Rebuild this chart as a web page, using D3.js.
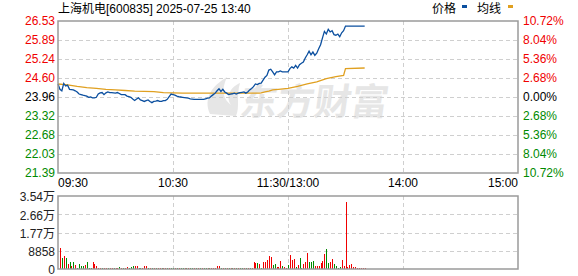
<!DOCTYPE html>
<html lang="zh">
<head>
  <meta charset="UTF-8" />
  <title>上海机电 分时图</title>
  <script src="https://d3js.org/d3.v7.min.js"></script>
  <style>
    body { margin: 0; background: #fff; }
    svg { display: block; font-family: "Liberation Sans", Arial, "Noto Sans CJK SC", sans-serif; }
  </style>
</head>
<body>

<svg width="578" height="276"></svg>

<script>
const title = "上海机电[600835] 2025-07-25 13:40";
const preClose = 23.96;
const priceTicks = [26.53, 25.89, 25.24, 24.60, 23.96, 23.32, 22.68, 22.03, 21.39];
const pctLabels = ["10.72%", "8.04%", "5.36%", "2.68%", "0.00%", "2.68%", "5.36%", "8.04%", "10.72%"];
const timeTicks = [0, 60, 120, 180, 240];
const timeLabels = ["09:30", "10:30", "11:30/13:00", "14:00", "15:00"];
const volTicks = [0, 8858, 17716, 26574, 35432];
const volLabels = ["0", "8858", "1.77万", "2.66万", "3.54万"];

// one price per minute, 09:30 .. 13:40
const prices = [
  24.40,24.22,24.17,24.42,24.33,24.36,24.22,24.21,24.20,24.17,
  24.13,24.06,24.04,24.02,24.01,23.99,23.95,23.96,23.93,23.93,
  23.95,24.06,24.10,24.11,24.04,24.10,24.13,24.11,24.11,24.10,
  24.09,24.11,24.08,24.04,24.04,24.04,23.99,23.97,23.95,23.89,
  23.84,23.89,23.93,23.86,23.84,23.81,23.84,23.86,23.81,23.77,
  23.81,23.82,23.84,23.81,23.81,23.84,23.84,23.88,23.97,24.06,
  24.04,24.02,23.99,23.97,23.96,23.95,23.94,23.93,23.92,23.90,
  23.89,23.88,23.88,23.88,23.88,23.88,23.88,23.90,23.92,23.93,
  23.99,24.04,24.09,24.17,24.24,24.15,24.22,24.13,24.09,24.04,
  24.06,24.07,24.09,24.06,24.09,24.11,24.12,24.13,24.09,24.13,
  24.20,24.25,24.31,24.40,24.38,24.42,24.43,24.53,24.63,24.69,
  24.87,24.90,24.81,24.71,24.81,24.81,24.84,24.81,24.81,24.81,
  24.81,24.92,24.98,24.94,25.03,24.94,25.05,25.10,25.14,25.28,
  25.39,25.51,25.39,25.48,25.37,25.44,25.59,25.73,25.96,26.18,
  26.09,26.25,26.16,26.20,26.07,26.05,26.09,26.00,26.13,26.20,
  26.36,26.36,26.36,26.36,26.36,26.36,26.36,26.36,26.36,26.36,26.36
];

const avgMinutes = [0,5,10,15,20,25,30,35,40,45,50,55,60,65,105,106,108,110,112,115,120,125,130,135,140,145,149,150,160];
const avgPrices = [24.40,24.37,24.32,24.28,24.25,24.22,24.20,24.18,24.16,24.15,24.14,24.11,24.10,24.09,24.09,24.10,24.13,24.16,24.20,24.22,24.25,24.32,24.40,24.47,24.58,24.65,24.69,24.92,24.94];

const volumes = [
  0,
  10060,5270,6230,5270,2400,3350,1440,3350,1920,480,2400,1440,1440,1920,3350,480,480,3350,2400,1440,
  600,480,480,480,600,480,480,480,480,480,
  480,960,480,480,480,960,480,960,1440,1440,
  1440,480,480,480,1440,1440,480,480,480,480,
  480,480,480,480,480,480,480,480,600,480,
  480,480,480,480,480,480,480,480,480,480,
  480,480,480,480,480,480,480,480,480,600,
  720,480,1440,1440,480,480,480,480,480,480,
  480,480,480,480,480,480,480,480,480,480,
  480,
  3350,2870,2870,2400,480,3350,3350,4310,6230,
  5750,1920,2400,960,960,3830,1440,960,480,1920,
  6710,4310,4790,960,1920,5270,480,2400,3350,7660,
  3350,3350,3830,1440,1440,1440,2870,3830,7180,9580,
  2870,3350,4790,2400,1440,480,960,4310,1440,32560,
  960,1920,2400,960,960,480,480,480,480,480
];
// r = up minute, g = down minute
const volDir = ("r" +
  "rgrgrgrgrggggrgggrr" + "r" +
  "rrgrrgrrgr" + "rgrgrrgggr" + "rggrrrgrgr" + "grrgrrgrgg" +
  "rgrggrgrgg" + "rgrgrggrgr" + "rrrrgrgrgr" + "grgrggrgrg" + "r" +
  "rrgrgrrrr" + "rggrrrgrrg" + "rrrgrggrrr" + "gggrrrrrrg" +
  "grrggggrrr" + "rrrrrrrrrr").split("");

const svg = d3.select("svg");
const red = "#f00000", green = "#008a00", gridColor = "#cfcfcf", frameColor = "#9a9a9a";

const x = d3.scaleLinear().domain([0, 240]).range([58, 518]);
const y = d3.scaleLinear().domain([21.39, 26.53]).range([173, 21]);
const yv = d3.scaleLinear().domain([0, 35432]).range([269, 196]);

// title + legend
svg.append("text").attr("x", 58).attr("y", 13).attr("font-size", 12).attr("fill", "#000").text(title);
svg.append("text").attr("x", 432).attr("y", 13).attr("font-size", 12).text("价格");
svg.append("rect").attr("x", 462).attr("y", 5).attr("width", 5).attr("height", 3).attr("fill", "#0b4f9f");
svg.append("text").attr("x", 477).attr("y", 13).attr("font-size", 12).text("均线");
svg.append("rect").attr("x", 508).attr("y", 5).attr("width", 5).attr("height", 3).attr("fill", "#e0a020");

// watermark
const wm = svg.append("g").attr("fill", "#e6e6e6");
wm.append("path")
  .attr("d", "M210,114 C203,98 212,86 227,77 C221,90 223,99 231,105 C225,96 231,87 240,83 C236,96 240,107 236,116 Z");
wm.append("text")
  .attr("x", 240).attr("y", 115)
  .attr("font-size", 37).attr("font-weight", "bold")
  .attr("font-family", "Noto Sans CJK SC")
  .attr("transform", "skewX(-8) translate(15,0)")
  .text("东方财富");

// price panel grid
const grid = svg.append("g").attr("stroke", gridColor).attr("stroke-dasharray", "4,3").attr("stroke-width", 1);
grid.selectAll(".h").data(priceTicks.slice(1, -1)).enter().append("line")
  .attr("x1", 58).attr("x2", 518)
  .attr("y1", d => Math.round(y(d)) + 0.5).attr("y2", d => Math.round(y(d)) + 0.5);
grid.selectAll(".v").data(timeTicks.slice(1, -1)).enter().append("line")
  .attr("x1", d => Math.round(x(d)) + 0.5).attr("x2", d => Math.round(x(d)) + 0.5)
  .attr("y1", 21).attr("y2", 173);

// volume panel grid
grid.selectAll(".vh").data(volTicks.slice(1, -1)).enter().append("line")
  .attr("x1", 58).attr("x2", 518)
  .attr("y1", d => Math.round(yv(d)) + 0.5).attr("y2", d => Math.round(yv(d)) + 0.5);
grid.selectAll(".vv").data(timeTicks.slice(1, -1)).enter().append("line")
  .attr("x1", d => Math.round(x(d)) + 0.5).attr("x2", d => Math.round(x(d)) + 0.5)
  .attr("y1", 196).attr("y2", 269);

// volume bars
svg.append("g").attr("shape-rendering", "crispEdges")
  .selectAll("rect").data(volumes).enter().append("rect")
  .attr("x", (d, i) => Math.round(x(i)))
  .attr("y", d => yv(d))
  .attr("width", 1)
  .attr("height", d => yv(0) - yv(d))
  .attr("fill", (d, i) => volDir[i] === "g" ? green : red);

// average line
svg.append("path")
  .datum(avgMinutes.map((m, i) => [m, avgPrices[i]]))
  .attr("fill", "none").attr("stroke", "#e0a020").attr("stroke-width", 1.3)
  .attr("d", d3.line().x(d => x(d[0])).y(d => y(d[1])));

// price line
svg.append("path")
  .datum(prices)
  .attr("fill", "none").attr("stroke", "#0b4f9f").attr("stroke-width", 1.3)
  .attr("d", d3.line().x((d, i) => x(i)).y(d => y(d)));

// frames
svg.append("rect").attr("x", 58).attr("y", 21).attr("width", 460).attr("height", 152)
  .attr("fill", "none").attr("stroke", frameColor).attr("stroke-width", 1.5);
svg.append("rect").attr("x", 58).attr("y", 196).attr("width", 460).attr("height", 73)
  .attr("fill", "none").attr("stroke", frameColor).attr("stroke-width", 1.5);

// price labels
const tickColor = v => Math.abs(v - preClose) < 0.001 ? "#000" : (v > preClose ? red : green);
svg.append("g").selectAll("text").data(priceTicks).enter().append("text")
  .attr("x", 55).attr("y", d => y(d)).attr("dy", "0.36em")
  .attr("text-anchor", "end").attr("font-size", 12)
  .attr("fill", tickColor)
  .text(d => d.toFixed(2));
svg.append("g").selectAll("text").data(priceTicks).enter().append("text")
  .attr("x", 523).attr("y", d => y(d)).attr("dy", "0.36em")
  .attr("font-size", 12)
  .attr("fill", tickColor)
  .text((d, i) => pctLabels[i]);

// time labels
svg.append("g").selectAll("text").data(timeTicks).enter().append("text")
  .attr("x", d => x(d)).attr("y", 187)
  .attr("font-size", 12).attr("fill", "#000")
  .attr("text-anchor", (d, i) => i === 0 ? "start" : (i === timeTicks.length - 1 ? "end" : "middle"))
  .text((d, i) => timeLabels[i]);

// volume labels
svg.append("g").selectAll("text").data(volTicks).enter().append("text")
  .attr("x", 55).attr("y", d => yv(d)).attr("dy", "0.45em")
  .attr("text-anchor", "end").attr("font-size", 12).attr("fill", "#222")
  .text((d, i) => volLabels[i]);
</script>

</body>
</html>
